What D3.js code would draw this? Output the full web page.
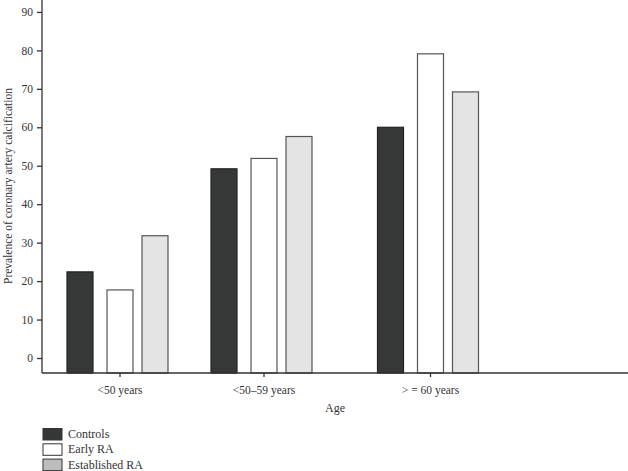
<!DOCTYPE html>
<html>
<head>
<meta charset="utf-8">
<script src="https://cdn.jsdelivr.net/npm/d3@7"></script>
<style>
    body { margin: 0; background: #fff; }
    #chart { width: 628px; height: 471px; }
    text { font-family: "Liberation Serif", "DejaVu Serif", serif; fill: #333; }
    .axis path, .axis line { stroke: #333; stroke-width: 1.3; }
    .axis text { font-size: 11.5px; }
</style>
</head>
<body>
<div id="chart"><svg width="628" height="471"></svg></div>
<script>
const ageGroups = ["<50 years", "<50\u201359 years", "> = 60 years"];
const seriesNames = ["Controls", "Early RA", "Established RA"];
const controls = [22.4, 49.2, 60.0];
const earlyRA = [17.7, 51.9, 79.1];
const establishedRA = [31.8, 57.6, 69.2];
const yTicks = [0, 10, 20, 30, 40, 50, 60, 70, 80, 90];

const seriesValues = [controls, earlyRA, establishedRA];
const data = [];
ageGroups.forEach(function(g, i) {
    seriesNames.forEach(function(s, j) {
        data.push({ group: g, series: s, value: seriesValues[j][i] });
    });
});

const svg = d3.select("#chart svg");
const plot = { left: 42, right: 628, top: 0, bottom: 373 };

// scales
const yScale = d3.scaleLinear()
    .domain([-3.9, 93.1])
    .range([plot.bottom, plot.top]);
const xScale = d3.scaleOrdinal()
    .domain(ageGroups)
    .range([120, 264, 430.5]);
const offset = d3.scaleOrdinal()
    .domain(seriesNames)
    .range([-40, 0, 35]);
const fill = d3.scaleOrdinal()
    .domain(seriesNames)
    .range(["#363837", "#ffffff", "#e3e4e3"]);
const stroke = d3.scaleOrdinal()
    .domain(seriesNames)
    .range(["#222", "#555", "#555"]);
const legendFill = d3.scaleOrdinal()
    .domain(seriesNames)
    .range(["#363837", "#ffffff", "#bdbdbd"]);
const barWidth = 26;

// bars
svg.append("g")
    .selectAll("rect")
    .data(data)
    .join("rect")
    .attr("x", function(d) { return xScale(d.group) + offset(d.series) - barWidth / 2; })
    .attr("y", function(d) { return yScale(d.value); })
    .attr("width", barWidth)
    .attr("height", function(d) { return plot.bottom - yScale(d.value); })
    .attr("fill", function(d) { return fill(d.series); })
    .attr("stroke", function(d) { return stroke(d.series); })
    .attr("stroke-width", 1.2);

// y axis
svg.append("g")
    .attr("class", "axis")
    .attr("transform", "translate(" + plot.left + ",0)")
    .call(d3.axisLeft(yScale).tickValues(yTicks).tickSize(5).tickPadding(4).tickSizeOuter(0))
    .call(function(g) { g.select(".domain").attr("d", "M0," + plot.top + "V" + plot.bottom); });

// x axis
const xAxis = svg.append("g")
    .attr("class", "axis")
    .attr("transform", "translate(0," + plot.bottom + ")")
    .call(d3.axisBottom(d3.scalePoint().domain(ageGroups).range([0, 1]))
        .tickSize(4).tickPadding(9));
xAxis.selectAll(".tick")
    .attr("transform", function(d) { return "translate(" + xScale(d) + ",0)"; });
xAxis.select(".domain").attr("d", "M" + plot.left + ",0H" + plot.right);

// axis titles
svg.append("text")
    .attr("x", 335)
    .attr("y", 412)
    .attr("text-anchor", "middle")
    .style("font-size", "12px")
    .text("Age");
svg.append("text")
    .attr("transform", "translate(12,186) rotate(-90)")
    .attr("text-anchor", "middle")
    .style("font-size", "11.5px")
    .text("Prevalence of coronary artery calcification");

// legend
const legend = svg.append("g")
    .selectAll("g")
    .data(seriesNames)
    .join("g")
    .attr("transform", function(d, i) { return "translate(43," + (428.5 + i * 15.3) + ")"; });
legend.append("rect")
    .attr("width", 19)
    .attr("height", 11.5)
    .attr("fill", function(d) { return legendFill(d); })
    .attr("stroke", "#333")
    .attr("stroke-width", 1);
legend.append("text")
    .attr("x", 25)
    .attr("y", 9.5)
    .style("font-size", "12px")
    .text(function(d) { return d; });
</script>
</body>
</html>
